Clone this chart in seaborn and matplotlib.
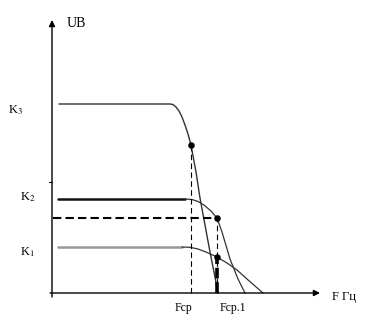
import matplotlib
matplotlib.use("Agg")
import matplotlib.pyplot as plt
import seaborn as sns
import pandas as pd

sns.set_theme(style="white")
plt.rcParams['font.family'] = ['Liberation Serif', 'DejaVu Serif']
plt.rcParams['mathtext.fontset'] = 'stix'

# Frequency response curves (F, gain)
k3_f = [0.7, 11.8, 12.1, 12.4, 12.7, 13.0, 13.3, 13.6, 13.9, 14.4, 14.8, 15.3, 15.8, 16.2, 16.6]
k3_u = [18.9, 18.9, 18.85, 18.6, 18.2, 17.6, 16.8, 15.9, 14.8, 12.1, 9.5, 6.8, 4.1, 2.1, 0.0]

k2_flat_f = [0.6, 13.3]
k2_flat_u = [9.4, 9.4]
k2_f = [13.3, 14.0, 14.6, 15.2, 15.9, 16.5, 17.0, 17.8, 18.6, 19.3]
k2_u = [9.4, 9.35, 9.15, 8.8, 8.2, 7.5, 6.1, 3.4, 1.4, 0.0]

k1_flat_f = [0.6, 13.0]
k1_flat_u = [4.6, 4.6]
k1_f = [13.0, 13.8, 14.6, 15.4, 16.5, 17.5, 18.5, 19.5, 20.3, 21.1]
k1_u = [4.6, 4.57, 4.4, 4.1, 3.6, 3.0, 2.3, 1.4, 0.7, 0.0]

f_cp = 13.9
f_cp1 = 16.5
u_dash = 7.5
k3_at_cp = 14.8
k1_at_cp1 = 3.6
k_labels = [r"K$_3$", r"K$_2$", r"K$_1$"]
k_label_f = [-4.4, -3.2, -3.2]
k_label_u = [18.3, 9.6, 4.1]

fig = plt.figure(figsize=(3.74, 3.23), dpi=100)
ax = fig.add_axes([0, 0, 1, 1])
ax.set_xlim(-5.2, 32.2)
ax.set_ylim(-3.0, 29.3)
ax.axis('off')

def line(x, y, **kw):
    sns.lineplot(x=x, y=y, sort=False, estimator=None, ax=ax, legend=False, **kw)

line(k3_f, k3_u, color='#333333', lw=1.0)
line(k2_flat_f, k2_flat_u, color='#111111', lw=1.8)
line(k2_f, k2_u, color='#333333', lw=0.9)
line(k1_flat_f, k1_flat_u, color='#999999', lw=1.8)
line(k1_f, k1_u, color='#333333', lw=0.9)

# dashed guides
ax.plot([0.1, f_cp1], [u_dash, u_dash], color='black', lw=1.5, ls=(0, (4, 2)))
ax.plot([f_cp, f_cp], [0, k3_at_cp], color='black', lw=0.8, ls=(0, (5, 3)))
ax.plot([f_cp1, f_cp1], [0, u_dash], color='black', lw=0.8, ls=(0, (5, 3)))
ax.plot([f_cp1, f_cp1], [0, k1_at_cp1], color='black', lw=2.6, ls=(0, (3, 1)))

dots = pd.DataFrame({'f': [f_cp, f_cp1, f_cp1], 'u': [k3_at_cp, u_dash, k1_at_cp1]})
sns.scatterplot(data=dots, x='f', y='u', color='black', s=22, ax=ax, zorder=5,
                edgecolor='black', linewidth=0)

# axes arrows
ap = dict(arrowstyle='-|>', lw=1.0, color='black', mutation_scale=9, shrinkA=0, shrinkB=0)
ax.annotate('', xy=(0, 27.3), xytext=(0, -0.4), arrowprops=ap)
ax.annotate('', xy=(26.8, 0), xytext=(-0.2, 0), arrowprops=ap)
ax.plot([-0.3, 0], [11.1, 11.1], color='black', lw=0.8)

# texts
ax.text(1.5, 26.9, "UB", fontsize=10, va='center', ha='left', color='black')
for lab, xx, yy in zip(k_labels, k_label_f, k_label_u):
    ax.text(xx, yy, lab, fontsize=9, va='center', ha='left', color='black')
ax.text(13.1, -1.5, "Fcp", fontsize=8.5, va='center', ha='center', color='black')
ax.text(18.1, -1.5, "Fcp.1", fontsize=8.5, va='center', ha='center', color='black')
ax.text(28.0, -0.4, "F Гц", fontsize=9, va='center', ha='left', color='black')

fig.savefig("out.png", dpi=100)
